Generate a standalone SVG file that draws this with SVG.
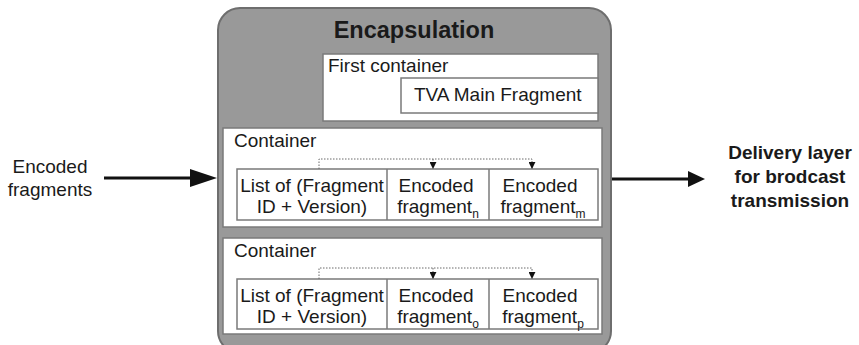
<svg xmlns="http://www.w3.org/2000/svg" width="859" height="345" viewBox="0 0 859 345">
<style>
.t{font-family:"Liberation Sans",Arial,sans-serif;font-size:19px;fill:#1a1a1a}
.b{font-weight:bold}
.m{text-anchor:middle}
.box{fill:#fff;stroke:#7a7a7a;stroke-width:1.5}
.div{stroke:#7a7a7a;stroke-width:1.5}
.dot{fill:none;stroke:#6a6a6a;stroke-width:1;stroke-dasharray:1.5 1.5}
.sub{font-size:12px;fill:#1a1a1a}
</style>
<defs>
<marker id="ah" viewBox="0 0 8 8" refX="7" refY="4" markerWidth="7" markerHeight="7" markerUnits="userSpaceOnUse" orient="auto">
<path d="M0,0 L8,4 L0,8 Z" fill="#111"/>
</marker>
</defs>
<rect width="859" height="345" fill="#fff"/>
<g id="encapsulation">
<rect x="218" y="8" width="393" height="345" rx="22" fill="#999" stroke="#6e6e6e" stroke-width="2"/>
<text class="t b m" x="414" y="38" style="font-size:23.5px">Encapsulation</text>
</g>
<g id="first-container">
<rect class="box" x="323" y="54" width="275" height="67"/>
<text class="t" x="328" y="72">First container</text>
<rect class="box" x="401" y="78" width="197" height="35"/>
<text class="t" x="414" y="101">TVA Main Fragment</text>
</g>
<g id="container-1">
<rect class="box" x="223" y="128" width="379" height="99"/>
<text class="t" x="234" y="147">Container</text>
<rect class="box" x="237" y="169" width="361" height="51"/>
<line class="div" x1="387" y1="169" x2="387" y2="220"/>
<line class="div" x1="489" y1="169" x2="489" y2="220"/>
<text class="t m" x="312" y="192">List of (Fragment</text>
<text class="t m" x="312" y="213">ID + Version)</text>
<text class="t m" x="436" y="192">Encoded</text>
<text class="t m" x="438" y="213">fragment<tspan class="sub" dy="5">n</tspan></text>
<text class="t m" x="540" y="192">Encoded</text>
<text class="t m" x="543" y="213">fragment<tspan class="sub" dy="5">m</tspan></text>
</g>
<g id="container-2">
<rect class="box" x="223" y="238" width="379" height="96"/>
<text class="t" x="234" y="257">Container</text>
<rect class="box" x="237" y="279" width="361" height="50"/>
<line class="div" x1="387" y1="279" x2="387" y2="329"/>
<line class="div" x1="489" y1="279" x2="489" y2="329"/>
<text class="t m" x="312" y="302">List of (Fragment</text>
<text class="t m" x="312" y="323">ID + Version)</text>
<text class="t m" x="436" y="302">Encoded</text>
<text class="t m" x="438" y="323">fragment<tspan class="sub" dy="5">o</tspan></text>
<text class="t m" x="540" y="302">Encoded</text>
<text class="t m" x="543" y="323">fragment<tspan class="sub" dy="5">p</tspan></text>
</g>
<g id="input">
<text class="t m" x="50" y="173">Encoded</text>
<text class="t m" x="50" y="196">fragments</text>
</g>
<g id="output">
<text class="t b m" x="790" y="159">Delivery layer</text>
<text class="t b m" x="790" y="183">for brodcast</text>
<text class="t b m" x="790" y="207">transmission</text>
</g>
<g id="connectors">
<line x1="104" y1="178" x2="192" y2="178" stroke="#111" stroke-width="3"/>
<polygon points="190,169 217,178 190,187" fill="#111"/>
<line x1="612" y1="179" x2="690" y2="179" stroke="#111" stroke-width="3"/>
<polygon points="688,171 705,179 688,187" fill="#111"/>
<path class="dot" d="M319,169 V159 H532 V168" marker-end="url(#ah)"/>
<path class="dot" d="M433,159 V168" marker-end="url(#ah)"/>
<path class="dot" d="M319,279 V268 H532 V278" marker-end="url(#ah)"/>
<path class="dot" d="M433,268 V278" marker-end="url(#ah)"/>
</g>
</svg>
